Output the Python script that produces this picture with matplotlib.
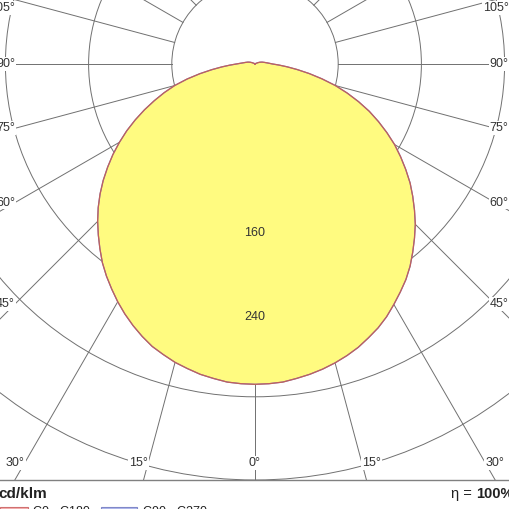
import numpy as np
import matplotlib.pyplot as plt
from matplotlib.patches import Circle, Rectangle
from matplotlib.lines import Line2D

plt.rcParams['font.family'] = ['Liberation Sans', 'DejaVu Sans']

# gamma angles (deg) and luminous intensity (cd/klm)
gamma = [0, 2.5, 5, 7.5, 10, 12.5, 15, 17.5, 20, 22.5, 25, 27.5, 30, 32.5,
         35, 37.5, 40, 42.5, 45, 47.5, 50, 52.5, 55, 57.5, 60, 62.5, 65,
         67.5, 70, 72.5, 75, 77.5, 80, 82.5, 85, 87.5, 90, 95, 100, 105,
         110, 115, 120, 125, 130, 135, 140, 150, 160, 170, 180]
# C0 half (right side of the diagram)
intensity_c0 = [308, 307.7, 307, 305, 303, 300.5, 297.5, 294, 290, 285,
                280, 274, 267, 260, 253, 245, 236, 227, 218, 208, 198, 188,
                177, 166, 155, 143, 131, 119, 106, 93, 80, 66, 53, 41, 31,
                23, 17, 12, 9, 7, 5, 3, 1.5, 1, 0.5, 0, 0, 0, 0, 0, 0]
# C180 half (left side of the diagram)
intensity_c180 = [308, 307.7, 307, 305, 303, 300, 297, 293, 289, 283.5,
                  277.5, 271, 264, 256.5, 249, 241, 232, 223, 214, 204.5,
                  194.5, 184, 173, 162, 150.5, 139, 127, 115, 103, 91.5, 80,
                  67, 54, 42, 32, 24, 18, 12, 9, 7, 5, 3, 1.5, 1, 0.5, 0, 0,
                  0, 0, 0, 0]
# the C90 / C270 halves lie on top of the C0 / C180 halves
intensity_c90 = list(intensity_c0)
intensity_c270 = list(intensity_c180)

ring_values = [80, 160, 240, 320, 400]
ring_labels = [160, 240]
angle_labels = [0, 15, 30, 45, 60, 75, 90, 105]
unit = 'cd/klm'
efficiency = '100%'
legend_names = ['C0 - C180', 'C90 - C270']

PX = 1.04  # pixels per cd/klm
W, H = 510, 509
grid_c = '#707070'
text_c = '#333333'
fill_c = '#fffb80'
red_c = '#c0605a'
blue_c = '#8080c8'

fig = plt.figure(figsize=(W / 100, H / 100), dpi=100)
ax = fig.add_axes([0, 29 / H, 1, 480 / H])
ax.set_xlim(-255 / PX, 255 / PX)
ax.set_ylim(-416 / PX, 64 / PX)
ax.set_aspect('equal')
ax.axis('off')

# grid: rings and radial spokes (spokes start at the first ring)
for r in ring_values:
    ax.add_patch(Circle((0, 0), r, fill=False, ec=grid_c, lw=0.7, zorder=1))
for a in range(0, 360, 15):
    s, c = np.sin(np.radians(a)), -np.cos(np.radians(a))
    ax.plot([ring_values[0] * s, 1000 * s], [ring_values[0] * c, 1000 * c],
            color=grid_c, lw=0.7, zorder=1)


def outline(left, right):
    th = np.radians(gamma)
    lv = np.array(left, dtype=float)
    rv = np.array(right, dtype=float)
    xs = np.concatenate([-lv[::-1] * np.sin(th[::-1]), rv * np.sin(th)])
    ys = np.concatenate([-lv[::-1] * np.cos(th[::-1]), -rv * np.cos(th)])
    return xs, ys


x0, y0 = outline(intensity_c180, intensity_c0)
x9, y9 = outline(intensity_c270, intensity_c90)
ax.fill(x0, y0, color=fill_c, zorder=2, lw=0)
ax.plot(x9, y9, color=blue_c, lw=0.9, zorder=3)
ax.plot(x0, y0, color=red_c, lw=0.9, zorder=4)

for r in ring_labels:
    ax.text(0, -r - 3 / PX, str(r), ha='center', va='center', fontsize=9,
            color=text_c, zorder=5)

# angle labels where the spokes meet the inner frame
x_lim = 240 / PX
x_right_edge = 253.5 / PX
y_bot = -399 / PX
y_top = 56 / PX
bbox = dict(fc='white', ec='none', pad=0.6)
for a in angle_labels:
    for side in (-1, 1):
        if a == 0 and side == 1:
            continue
        dx = side * np.sin(np.radians(a))
        dy = -np.cos(np.radians(a))
        tx = x_lim / abs(dx) if dx != 0 else np.inf
        ty = abs(y_bot) / abs(dy) if dy < -1e-9 else np.inf
        if ty < tx:
            px, py = ty * dx, y_bot
            ha = 'center' if a == 0 else ('right' if side < 0 else 'left')
        else:
            px, py = tx * dx, min(tx * dy, y_top)
            ha = 'right'
            if side > 0:
                px = x_right_edge
        ax.text(px, py, f'{a}°', ha=ha, va='center', fontsize=9,
                color=text_c, bbox=bbox, zorder=6)

# frame line under the diagram
fig.add_artist(Line2D([0, 1], [29 / H, 29 / H], color='#808080', lw=1.0))

fig.text(-2 / W, 1 - 494 / H, unit, ha='left', va='center', fontsize=11,
         fontweight='bold', color='#222222')
fig.text(472 / W, 1 - 494 / H, 'η =', ha='right', va='center', fontsize=10.5,
         color='#222222')
fig.text(476 / W, 1 - 494 / H, efficiency, ha='left', va='center',
         fontsize=10.5, fontweight='bold', color='#222222')

# legend row (mostly cut off at the bottom edge)
fig.add_artist(Rectangle((0, 1 - 517 / H), 28 / W, 10 / H, fc='#f4b0b0',
                         ec='#d07070', lw=0.8))
fig.add_artist(Rectangle((101 / W, 1 - 517 / H), 36 / W, 10 / H,
                         fc='#b0b8ec', ec='#8088c8', lw=0.8))
fig.text(33 / W, 1 - 506 / H, legend_names[0], ha='left', va='top',
         fontsize=9, color='#222222')
fig.text(143 / W, 1 - 506 / H, legend_names[1], ha='left', va='top',
         fontsize=9, color='#222222')

fig.savefig('out.png', dpi=100)
